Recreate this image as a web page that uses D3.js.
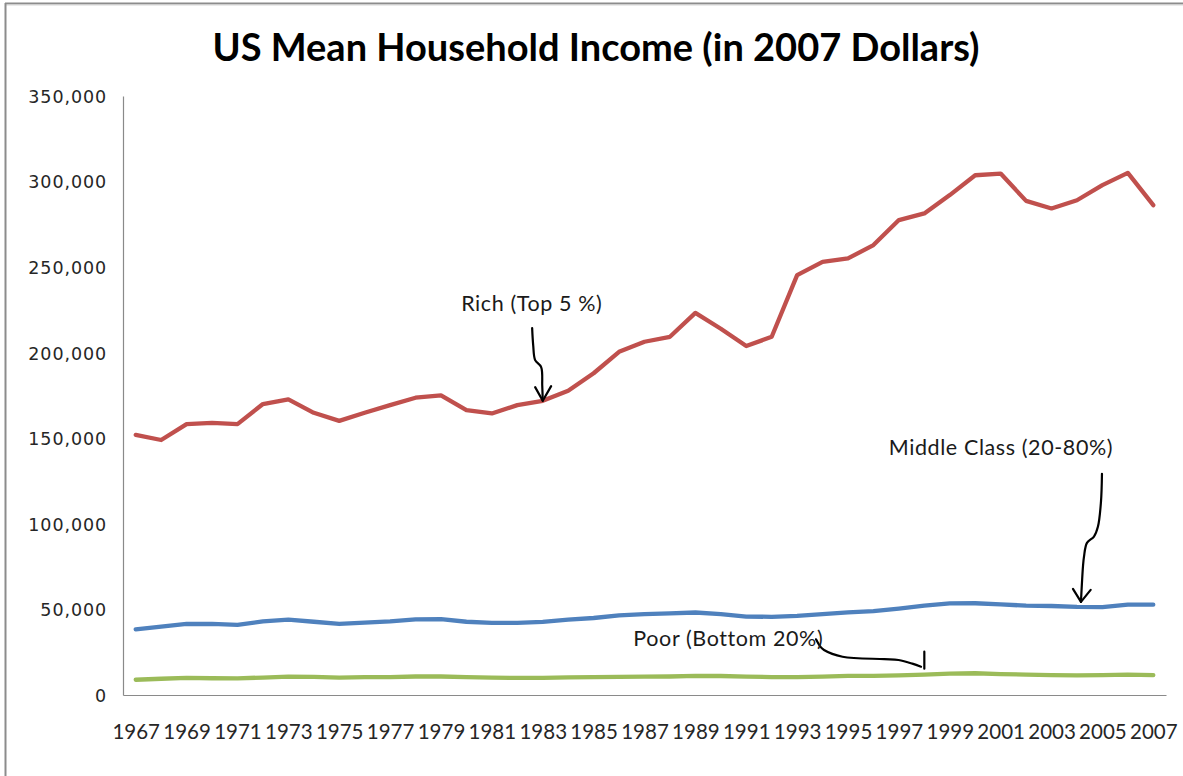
<!DOCTYPE html>
<html>
<head>
<meta charset="utf-8">
<script src="https://cdn.jsdelivr.net/npm/d3@7"></script>
<style>
  html, body { margin: 0; padding: 0; background: #fff; }
  svg { display: block; }
  .tick text { fill: #262626; }
</style>
</head>
<body>
<svg id="chart" width="1183" height="776"></svg>
<script>
// Mean household income by group, 1967–2007, in 2007 dollars
const years = d3.range(1967, 2008);

const richTop5 = [
  152000, 149000, 158300, 159000, 158300, 170000, 172700, 164900, 160200, 164900,
  169400, 173700, 175100, 166500, 164500, 169400, 171900, 177800, 188000, 200500,
  206400, 209300, 223300, 214000, 203900, 209300, 245300, 253100, 255100, 262900,
  277500, 281400, 292100, 303700, 304700, 288700, 284300, 289100, 297900, 305100,
  286200
];

const middleClass = [
  38400, 40000, 41500, 41500, 41000, 43000, 44000, 42800, 41500, 42300,
  43000, 44200, 44300, 42800, 42200, 42200, 42700, 44000, 45000, 46500,
  47200, 47700, 48200, 47300, 45800, 45700, 46200, 47300, 48300, 49000,
  50500, 52200, 53500, 53600, 53000, 52200, 52000, 51500, 51400, 52800,
  52800
];

const poorBottom20 = [
  8900, 9500, 10000, 9800, 9700, 10200, 10700, 10600, 10100, 10400,
  10400, 10800, 10800, 10500, 10100, 10000, 10000, 10300, 10500, 10600,
  10700, 10800, 11200, 11100, 10700, 10500, 10500, 10700, 11200, 11200,
  11500, 11900, 12500, 12700, 12200, 11900, 11600, 11500, 11600, 11900,
  11600
];

const yTicks = [0, 50000, 100000, 150000, 200000, 250000, 300000, 350000];
const xTickYears = years.filter((y, i) => i % 2 === 0);

const titleText = "US Mean Household Income (in 2007 Dollars)";

const seriesList = [
  { name: "Rich (Top 5 %)", values: richTop5, color: "#C0504D" },
  { name: "Middle Class (20-80%)", values: middleClass, color: "#4F81BD" },
  { name: "Poor (Bottom 20%)", values: poorBottom20, color: "#9BBB59" }
];

const svg = d3.select("#chart");
const W = 1183, H = 776;
const plot = { left: 123, right: 1166, top: 96, bottom: 695 };

// outer frame (top and left edges visible)
svg.append("rect").attr("width", W).attr("height", H).attr("fill", "#fff");
svg.append("line").attr("x1", 5).attr("x2", W).attr("y1", 3.5).attr("y2", 3.5)
  .attr("stroke", "#8c8c8c").attr("stroke-width", 2);
svg.append("line").attr("x1", 5).attr("x2", W).attr("y1", 5).attr("y2", 5)
  .attr("stroke", "#d6d6d6").attr("stroke-width", 1);
svg.append("line").attr("x1", 5.5).attr("x2", 5.5).attr("y1", 3).attr("y2", H)
  .attr("stroke", "#8c8c8c").attr("stroke-width", 2);

// title
svg.append("text")
  .attr("x", 596).attr("y", 61)
  .attr("text-anchor", "middle")
  .attr("font-family", "Lato, 'Open Sans', sans-serif")
  .attr("font-weight", "bold")
  .attr("font-size", 38)
  .attr("fill", "#000")
  .text(titleText);

const x = d3.scalePoint()
  .domain(years)
  .range([plot.left, plot.right])
  .padding(0.5);

const y = d3.scaleLinear()
  .domain([0, 350000])
  .range([plot.bottom, plot.top]);

// y axis
const yAxis = svg.append("g")
  .attr("transform", `translate(${plot.left},0)`)
  .call(d3.axisLeft(y)
    .tickValues(yTicks)
    .tickSize(0)
    .tickSizeOuter(0)
    .tickPadding(16)
    .tickFormat(d3.format(",")));
yAxis.select(".domain").attr("stroke", "#8a8a8a").attr("stroke-width", 1.2);
yAxis.selectAll("text")
  .attr("font-family", "'DejaVu Sans', sans-serif")
  .attr("font-size", 17.5)
  .attr("letter-spacing", 0.9)
  .attr("dy", "0.36em");

// x axis
const xAxis = svg.append("g")
  .attr("transform", `translate(0,${plot.bottom})`)
  .call(d3.axisBottom(x)
    .tickValues(xTickYears)
    .tickSize(0)
    .tickSizeOuter(0)
    .tickPadding(44)
    .tickFormat(d3.format("d")));
xAxis.select(".domain").attr("stroke", "#8a8a8a").attr("stroke-width", 1.2);
xAxis.selectAll("text")
  .attr("font-family", "Lato, sans-serif")
  .attr("font-size", 20.5)
  .attr("dy", "0em");

// series lines
const line = d3.line()
  .x((d, i) => x(years[i]))
  .y(d => y(d));

svg.append("g").selectAll("path")
  .data(seriesList)
  .join("path")
  .attr("d", d => line(d.values))
  .attr("fill", "none")
  .attr("stroke", d => d.color)
  .attr("stroke-width", 4.3)
  .attr("stroke-linejoin", "round")
  .attr("stroke-linecap", "round");

// hand-drawn style callouts, anchored on a data point of each series
const callouts = [
  {
    text: seriesList[0].name, year: 1983, values: richTop5, dx: 0, dy: 0,
    label: [-11, -97],
    path: [[-10.6, -72.7], [-9.5, -55], [-7.6, -40.7], [-1.6, -33.7], [-0.5, -15], [0, 0]],
    head: [[-7.6, -13.7], [0, 0], [8.4, -14.7]]
  },
  {
    text: seriesList[1].name, year: 2004, values: middleClass, dx: 4, dy: -5,
    label: [-80, -154],
    path: [[21, -128], [20, -100], [17, -75.3], [13, -65.3], [6, -59], [3, -45], [2, -35.3], [0, 0]],
    head: [[-8, -13], [0, 0], [9.7, -12]]
  },
  {
    text: seriesList[2].name, year: 1998, values: poorBottom20, dx: 0, dy: 0,
    label: [-196, -36.6],
    path: [[-108.3, -35.3], [-104, -28], [-100.3, -24.6], [-81.8, -17.9], [-40, -15.5], [-25.8, -14.6], [-12, -11], [-3.3, -7.9]],
    head: [[0, -23], [0, -6]]
  }
];

const curve = d3.line().curve(d3.curveCatmullRom.alpha(0.5));
const straight = d3.line();

callouts.forEach(c => {
  const idx = years.indexOf(c.year);
  const ax = x(c.year) + c.dx;
  const ay = y(c.values[idx]) + c.dy;
  const shift = pts => pts.map(p => [ax + p[0], ay + p[1]]);
  svg.append("path")
    .attr("d", curve(shift(c.path)))
    .attr("fill", "none").attr("stroke", "#000")
    .attr("stroke-width", 2.2).attr("stroke-linecap", "round");
  svg.append("path")
    .attr("d", straight(shift(c.head)))
    .attr("fill", "none").attr("stroke", "#000")
    .attr("stroke-width", 2.2).attr("stroke-linecap", "round")
    .attr("stroke-linejoin", "round");
  svg.append("text")
    .attr("x", ax + c.label[0]).attr("y", ay + c.label[1])
    .attr("text-anchor", "middle")
    .attr("dy", "0.35em")
    .attr("font-family", "Lato, sans-serif")
    .attr("font-size", 21.5)
    .attr("letter-spacing", 0.6)
    .attr("fill", "#1a1a1a")
    .text(c.text);
});
</script>
</body>
</html>
